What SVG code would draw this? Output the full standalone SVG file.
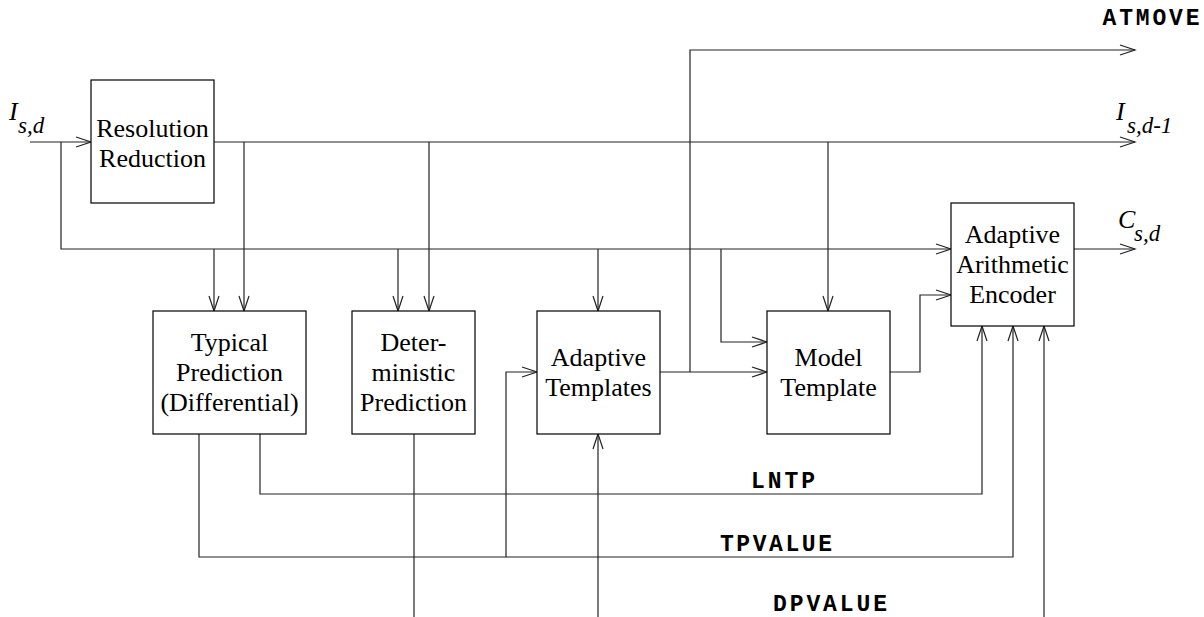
<svg xmlns="http://www.w3.org/2000/svg" width="1204" height="617" viewBox="0 0 1204 617">
<style>
.box{fill:#fff;stroke:#000;stroke-width:1.2}
.ln{fill:none;stroke:#222;stroke-width:1.2}
.t{font-family:"Liberation Serif","Times New Roman","DejaVu Serif",serif;font-size:26px;fill:#000;text-anchor:middle}
.it{font-family:"Liberation Serif","Times New Roman","DejaVu Serif",serif;font-style:italic;fill:#000}
.m{font-family:"Liberation Mono","Courier New",monospace;font-weight:bold;font-size:23px;fill:#000;text-anchor:middle}
</style>
<defs>
<marker id="a" markerUnits="userSpaceOnUse" markerWidth="18" markerHeight="14" viewBox="-16 -7 18 14" refX="0" refY="0" orient="auto">
<path d="M-15,-5 L0,0 L-15,5" fill="none" stroke="#222" stroke-width="1.2"/>
</marker>
</defs>
<rect width="1204" height="617" fill="#fff"/>
<g id="connectors">
<path class="ln" d="M30,142 H91" marker-end="url(#a)"/>
<path class="ln" d="M61,142 V249 H951" marker-end="url(#a)"/>
<path class="ln" d="M214,142 H1135" marker-end="url(#a)"/>
<path class="ln" d="M244,142 V311" marker-end="url(#a)"/>
<path class="ln" d="M214,249 V311" marker-end="url(#a)"/>
<path class="ln" d="M398,249 V311" marker-end="url(#a)"/>
<path class="ln" d="M429,142 V311" marker-end="url(#a)"/>
<path class="ln" d="M598,249 V311" marker-end="url(#a)"/>
<path class="ln" d="M721,249 V342 H767" marker-end="url(#a)"/>
<path class="ln" d="M828,142 V311" marker-end="url(#a)"/>
<path class="ln" d="M660,372 H767" marker-end="url(#a)"/>
<path class="ln" d="M690,372 V50 H1135" marker-end="url(#a)"/>
<path class="ln" d="M890,372 H920 V295 H951" marker-end="url(#a)"/>
<path class="ln" d="M1074,249 H1135" marker-end="url(#a)"/>
<path class="ln" d="M260,434 V494 H982 V326" marker-end="url(#a)"/>
<path class="ln" d="M199,434 V557 H1013 V326" marker-end="url(#a)"/>
<path class="ln" d="M506,557 V372 H537" marker-end="url(#a)"/>
<path class="ln" d="M414,434 V617"/>
<path class="ln" d="M598,617 V434" marker-end="url(#a)"/>
<path class="ln" d="M1044,617 V326" marker-end="url(#a)"/>
</g>
<g id="resolution-reduction">
<rect class="box" x="91" y="80" width="123" height="123"/>
<text class="t" x="152.5" y="137">Resolution</text>
<text class="t" x="152.5" y="167">Reduction</text>
</g>
<g id="typical-prediction">
<rect class="box" x="153" y="311" width="153" height="123"/>
<text class="t" x="229.5" y="351">Typical</text>
<text class="t" x="229.5" y="381">Prediction</text>
<text class="t" x="229.5" y="411">(Differential)</text>
</g>
<g id="deterministic-prediction">
<rect class="box" x="352" y="311" width="123" height="123"/>
<text class="t" x="413.5" y="351">Deter-</text>
<text class="t" x="413.5" y="381">ministic</text>
<text class="t" x="413.5" y="411">Prediction</text>
</g>
<g id="adaptive-templates">
<rect class="box" x="537" y="311" width="123" height="123"/>
<text class="t" x="598.5" y="366">Adaptive</text>
<text class="t" x="598.5" y="396">Templates</text>
</g>
<g id="model-template">
<rect class="box" x="767" y="311" width="123" height="123"/>
<text class="t" x="828.5" y="366">Model</text>
<text class="t" x="828.5" y="396">Template</text>
</g>
<g id="encoder">
<rect class="box" x="951" y="203" width="123" height="123"/>
<text class="t" x="1012.5" y="243">Adaptive</text>
<text class="t" x="1012.5" y="273">Arithmetic</text>
<text class="t" x="1012.5" y="303">Encoder</text>
</g>
<g id="labels">
<text class="it" x="9" y="120" font-size="26">I</text>
<text class="it" x="18" y="133" font-size="23">s,d</text>
<text class="it" x="1116" y="120" font-size="26">I</text>
<text class="it" x="1127" y="133" font-size="23">s,d-1</text>
<text class="it" x="1118" y="228" font-size="26">C</text>
<text class="it" x="1134" y="241" font-size="23">s,d</text>
<text class="m" x="1151" y="25" textLength="97" lengthAdjust="spacing">ATMOVE</text>
<text class="m" x="783" y="488" textLength="64" lengthAdjust="spacing">LNTP</text>
<text class="m" x="776" y="551" textLength="112" lengthAdjust="spacing">TPVALUE</text>
<text class="m" x="830" y="611" textLength="114" lengthAdjust="spacing">DPVALUE</text>
</g>
</svg>
